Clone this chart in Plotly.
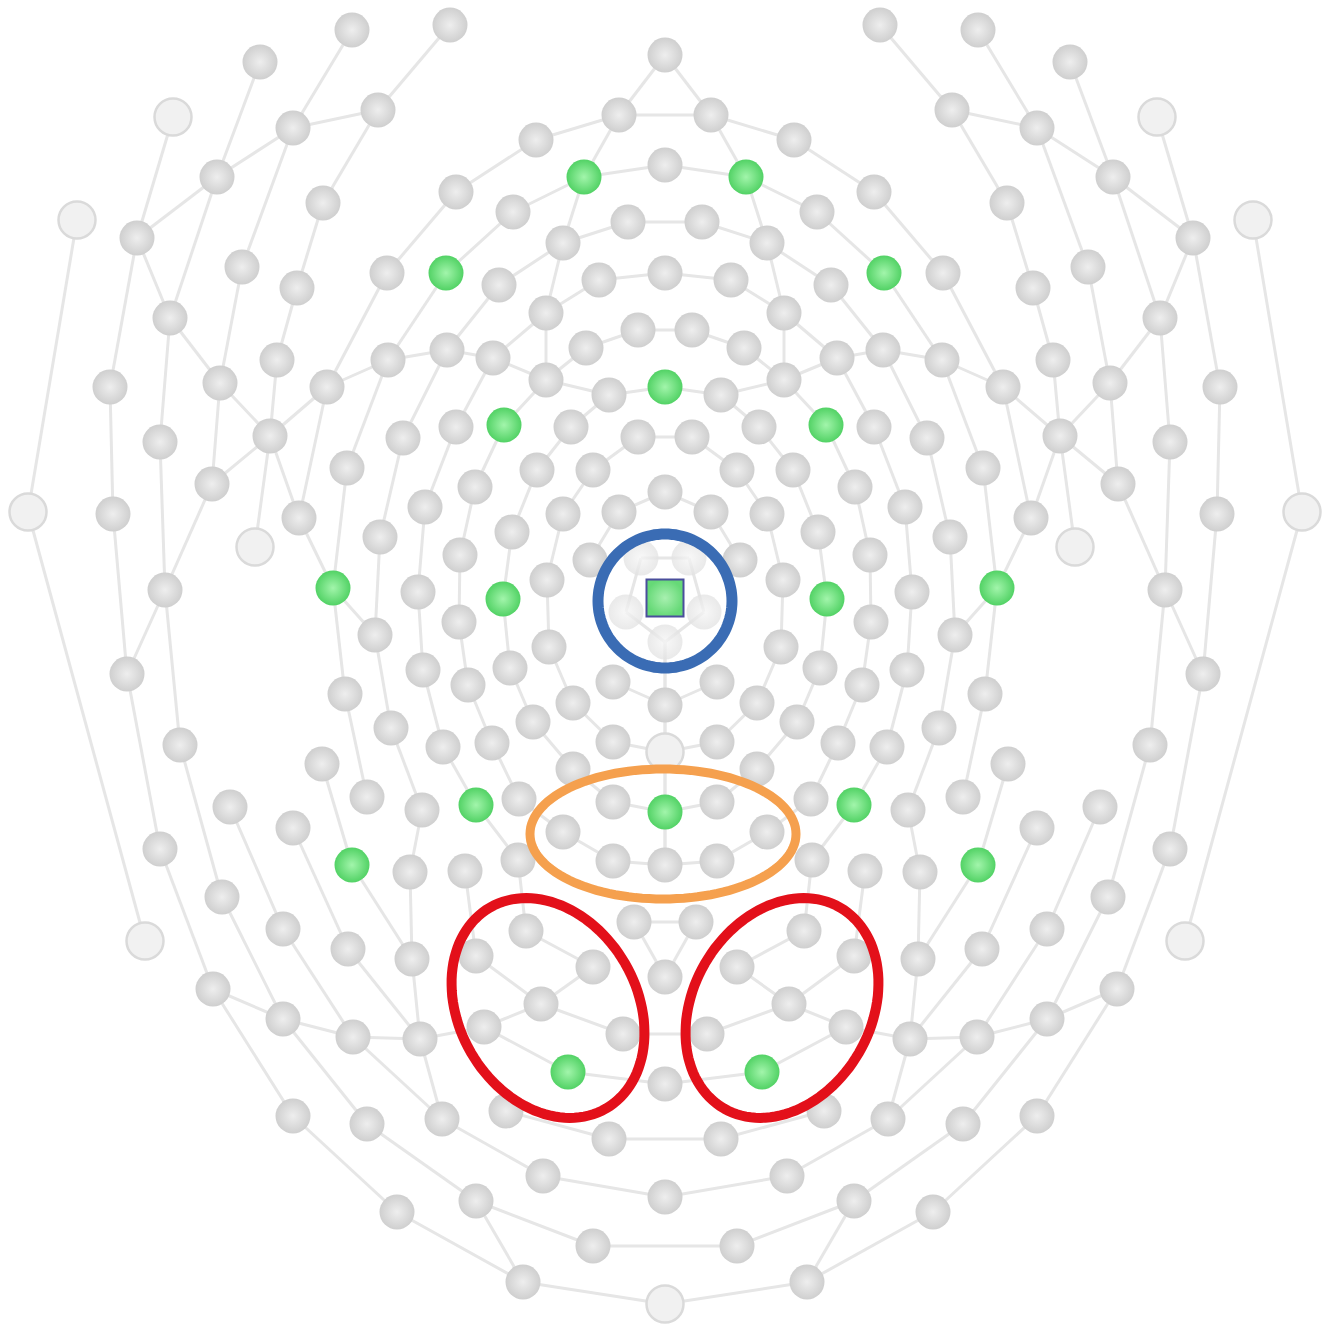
import numpy as np
import plotly.graph_objects as go

W, H = 1337, 1326
MID_X = 665  # vertical symmetry line of the montage

# ---- electrode chains, left half + midline (layout coordinates, y grows downward) ----
OUTER_CHAINS = [
    [(77, 220), (28, 512), (145, 941)],
    [(173, 117), (137, 238), (110, 387), (113, 514), (127, 674), (160, 849), (213, 989),
     (293, 1116), (397, 1212), (523, 1282), (665, 1304)],
    [(260, 62), (217, 177), (170, 318), (160, 442), (165, 590), (180, 745), (222, 897),
     (283, 1019), (367, 1124), (476, 1201), (593, 1246)],
    [(352, 30), (293, 128), (242, 267), (220, 383), (212, 484), (165, 590)],
    [(450, 25), (378, 110), (293, 128), (217, 177), (137, 238)],
    [(378, 110), (323, 203), (297, 288), (277, 360), (270, 436), (212, 484)],
    [(137, 238), (170, 318), (220, 383), (270, 436), (327, 387), (388, 360), (447, 350),
     (493, 358), (546, 380), (609, 395), (665, 387)],
    [(456, 192), (387, 273), (327, 387), (299, 518), (333, 588), (375, 635), (391, 728),
     (422, 810), (410, 872), (412, 959), (420, 1039), (442, 1119), (543, 1176), (665, 1197)],
    [(270, 436), (255, 547)],
    [(270, 436), (299, 518)],
    [(447, 350), (403, 438), (380, 537), (375, 635)],
    [(388, 360), (347, 468), (333, 588), (345, 694), (367, 797)],
    [(127, 674), (165, 590)],
    [(230, 807), (283, 929), (353, 1037)],
    [(293, 828), (348, 949), (420, 1039)],
    [(322, 764), (352, 865), (412, 959)],
    [(213, 989), (283, 1019), (353, 1037), (420, 1039), (484, 1027)],
    [(353, 1037), (442, 1119)],
]

RING_CHAINS = [
    [(665, 55), (619, 115), (536, 140), (456, 192)],
    [(619, 115), (584, 177)],
    [(665, 165), (584, 177), (513, 212), (446, 273), (388, 360)],
    [(584, 177), (563, 243), (546, 313), (546, 380)],
    [(628, 222), (563, 243), (499, 285), (447, 350)],
    [(665, 273), (599, 280), (546, 313), (493, 358), (456, 427), (425, 507), (418, 592),
     (423, 670), (443, 747), (476, 805), (518, 860), (526, 931), (593, 967), (541, 1004),
     (484, 1027), (568, 1072), (665, 1084)],
    [(638, 330), (586, 348), (546, 380), (504, 425), (475, 487), (460, 555), (459, 622),
     (468, 685), (492, 743), (519, 799), (563, 832), (613, 861), (665, 865)],
    [(609, 395), (571, 427), (537, 470), (512, 532), (503, 599), (510, 668), (533, 722),
     (573, 769), (613, 802), (665, 812)],
    [(638, 437), (593, 470), (563, 514), (547, 580), (549, 647), (573, 703), (613, 742),
     (665, 752)],
    [(665, 492), (619, 512), (590, 560)],
    [(665, 705), (613, 682)],
    [(665, 642), (626, 612), (641, 558)],
    [(665, 642), (665, 705), (665, 752), (665, 812), (665, 865)],
    [(465, 871), (476, 956), (541, 1004), (623, 1034)],
    [(634, 922), (665, 977)],
    [(506, 1111), (609, 1139)],
    [(476, 1201), (523, 1282)],
]

# left nodes joined straight across to their mirror partner
BRIDGE_NODES = [(619, 115), (628, 222), (638, 330), (638, 437), (641, 558), (634, 922),
                (623, 1034), (609, 1139), (593, 1246)]

GREEN_NODES = [(584, 177), (446, 273), (504, 425), (333, 588), (503, 599), (476, 805),
               (352, 865), (568, 1072), (665, 387), (665, 812)]
HOLLOW_NODES = [(77, 220), (28, 512), (145, 941), (173, 117), (255, 547), (665, 1304),
                (665, 752)]
VEILED_NODES = [(641, 558), (626, 612), (665, 642)]
REFERENCE_NODE = (665, 598)

# highlighted regions: (centre x, centre y, long half-axis, short half-axis, tilt deg, colour, width)
REGIONS = [
    (665, 601, 67, 67, 0, "#3a6cb4", 11),
    (663, 834, 133, 65, 0, "#f5a04e", 9),
    (548, 1008, 116, 89, 30, "#e3101a", 10),
    (782, 1008, 116, 89, -30, "#e3101a", 10),
]


def mirror(p):
    return (2 * MID_X - p[0], p[1])


def with_mirror(points):
    out = set(points)
    out.update(mirror(p) for p in points)
    return out


# ---- edges (both halves) ----
segments = []
for chain in OUTER_CHAINS + RING_CHAINS:
    for a, b in zip(chain[:-1], chain[1:]):
        segments.append((a, b))
        segments.append((mirror(a), mirror(b)))
for p in BRIDGE_NODES:
    segments.append((p, mirror(p)))

ex, ey = [], []
for a, b in segments:
    ex += [a[0], b[0], None]
    ey += [a[1], b[1], None]

nodes = set()
for chain in OUTER_CHAINS + RING_CHAINS:
    nodes.update(chain)
nodes = with_mirror(nodes)
nodes.discard(REFERENCE_NODE)

green = with_mirror(GREEN_NODES)
hollow = with_mirror(HOLLOW_NODES)
veiled = with_mirror(VEILED_NODES)
gray = sorted(nodes - green - hollow - veiled)

fig = go.Figure()
fig.add_trace(go.Scatter(x=ex, y=ey, mode="lines", hoverinfo="skip",
                         line=dict(color="#e6e6e6", width=3)))


def add_nodes(pts, **marker):
    pts = sorted(pts)
    fig.add_trace(go.Scatter(x=[p[0] for p in pts], y=[p[1] for p in pts], mode="markers",
                             hoverinfo="skip", marker=marker))


# radial gradient: marker colour at the rim, gradient colour at the centre
add_nodes(gray, size=35, color="#cfcfcf", gradient=dict(type="radial", color="#eeeeee"),
          line=dict(width=0))
add_nodes(veiled, size=35, color="#e2e2e2", opacity=0.75,
          gradient=dict(type="radial", color="#f6f6f6"), line=dict(width=0))
add_nodes(hollow, size=37, color="#f1f1f1", line=dict(color="#dadada", width=2.5))
add_nodes(green, size=35, color="#52d265", gradient=dict(type="radial", color="#a2f5ab"),
          line=dict(width=0))
add_nodes([REFERENCE_NODE], size=37, symbol="square", color="#66d977",
          gradient=dict(type="radial", color="#a8f0b0"),
          line=dict(color="#4a4e9c", width=2))

# ---- region outlines ----
t = np.linspace(0, 2 * np.pi, 121)
for cx, cy, a, b, tilt, col, lw in REGIONS:
    if tilt:
        # long axis tilted off vertical: upper-left to lower-right for positive tilt
        th = np.deg2rad(tilt)
        ux, uy = np.sin(th), np.cos(th)
        vx, vy = np.cos(th), -np.sin(th)
        px = cx + a * np.cos(t) * ux + b * np.sin(t) * vx
        py = cy + a * np.cos(t) * uy + b * np.sin(t) * vy
    else:
        px = cx + a * np.cos(t)
        py = cy + b * np.sin(t)
    path = "M " + " L ".join(f"{x:.1f},{y:.1f}" for x, y in zip(px, py)) + " Z"
    fig.add_shape(type="path", path=path, line=dict(color=col, width=lw), layer="above")

fig.update_layout(
    width=W, height=H, margin=dict(l=0, r=0, t=0, b=0),
    paper_bgcolor="white", plot_bgcolor="white", showlegend=False,
    xaxis=dict(range=[0, W], visible=False, fixedrange=True),
    yaxis=dict(range=[H, 0], visible=False, fixedrange=True),
)
fig.write_html("out.html", config={"displayModeBar": False})
